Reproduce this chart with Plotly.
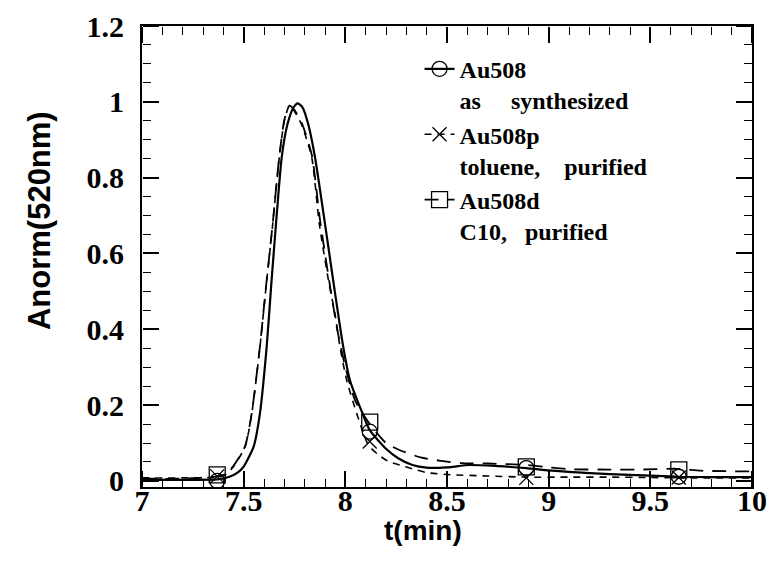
import plotly.graph_objects as go

# ---------------- data ----------------
t_au508 = [7.00, 7.20, 7.37, 7.43, 7.47, 7.50, 7.55, 7.58, 7.613, 7.636, 7.659, 7.687,
           7.715, 7.745, 7.766, 7.79, 7.818, 7.851, 7.90, 7.94, 7.99, 8.023, 8.087, 8.12,
           8.20, 8.26, 8.33, 8.40, 8.50, 8.61, 8.75, 8.89, 9.00, 9.10, 9.30, 9.50, 9.64,
           9.80, 10.00]
a_au508 = [0.003, 0.003, 0.004, 0.011, 0.022, 0.038, 0.092, 0.178, 0.353, 0.52, 0.678, 0.853,
           0.94, 0.985, 0.996, 0.985, 0.94, 0.853, 0.678, 0.53, 0.353, 0.265, 0.175, 0.134,
           0.085, 0.06, 0.042, 0.035, 0.036, 0.042, 0.039, 0.034, 0.028, 0.024, 0.018, 0.014, 0.011,
           0.010, 0.010]

t_au508p = [7.00, 7.20, 7.37, 7.41, 7.45, 7.507, 7.54, 7.58, 7.61, 7.643, 7.675, 7.70,
            7.725, 7.75, 7.785, 7.835, 7.872, 7.917, 7.949, 7.974, 8.007, 8.056, 8.113, 8.16,
            8.21, 8.28, 8.33, 8.40, 8.50, 8.70, 8.89, 9.10, 9.30, 9.50, 9.64, 9.80, 10.00]
a_au508p = [0.008, 0.008, 0.010, 0.016, 0.038, 0.090, 0.178, 0.353, 0.511, 0.678, 0.853, 0.95,
            0.99, 0.975, 0.94, 0.853, 0.678, 0.529, 0.441, 0.353, 0.265, 0.178, 0.095, 0.07,
            0.052, 0.04, 0.032, 0.022, 0.017, 0.013, 0.010, 0.010, 0.010, 0.009, 0.008, 0.008, 0.008]

t_au508d = [7.00, 7.20, 7.37, 7.41, 7.45, 7.507, 7.54, 7.58, 7.61, 7.643, 7.675, 7.70,
            7.725, 7.75, 7.785, 7.835, 7.875, 7.92, 7.96, 8.00, 8.05, 8.12, 8.20, 8.26,
            8.37, 8.47, 8.57, 8.70, 8.89, 9.00, 9.10, 9.30, 9.45, 9.63, 9.75, 10.00]
a_au508d = [0.006, 0.006, 0.012, 0.018, 0.040, 0.092, 0.18, 0.355, 0.513, 0.68, 0.855, 0.952,
            0.99, 0.978, 0.945, 0.86, 0.69, 0.53, 0.40, 0.30, 0.21, 0.15, 0.10, 0.083,
            0.062, 0.053, 0.047, 0.046, 0.042, 0.036, 0.031, 0.030, 0.030, 0.032, 0.027, 0.025]

mark_t = [7.37, 8.12, 8.89, 9.64]
mark_au508 = [0.000, 0.130, 0.034, 0.011]
mark_au508p = [0.012, 0.104, 0.008, 0.009]
mark_au508d = [0.016, 0.155, 0.037, 0.029]

series_names = ["Au508<br>as\u00a0\u00a0\u00a0\u00a0 synthesized",
                "Au508p<br>toluene,\u00a0\u00a0\u00a0 purified",
                "Au508d<br>C10,\u00a0\u00a0 purified"]

x_title = "t(min)"
y_title = "Anorm(520nm)"
x_range = [7, 10]
y_range = [-0.016, 1.2]
x_tick0, x_dtick, x_minor_dtick = 7, 0.5, 0.1
y_tick0, y_dtick, y_minor_dtick = 0, 0.2, 0.05

# ---------------- figure ----------------
fig = go.Figure()

styles = [
    dict(t=t_au508, a=a_au508, m=mark_au508, dash="solid", width=2.2, symbol="circle-open", size=15),
    dict(t=t_au508p, a=a_au508p, m=mark_au508p, dash="7px,6px", width=1.6, symbol="x-thin-open", size=14),
    dict(t=t_au508d, a=a_au508d, m=mark_au508d, dash="14px,9px", width=1.8, symbol="square-open", size=16),
]

for name, s in zip(series_names, styles):
    fig.add_trace(go.Scatter(
        x=s["t"], y=s["a"], mode="lines", showlegend=False,
        line=dict(color="black", width=s["width"], dash=s["dash"], shape="spline", smoothing=0.6),
        hoverinfo="skip"))
    fig.add_trace(go.Scatter(
        x=mark_t, y=s["m"], mode="markers", showlegend=False,
        marker=dict(symbol=s["symbol"], size=s["size"], color="black",
                    line=dict(color="black", width=1.3))))
    fig.add_trace(go.Scatter(
        x=[None], y=[None], mode="lines+markers", name=name,
        line=dict(color="black", width=s["width"], dash=s["dash"]),
        marker=dict(symbol=s["symbol"], size=s["size"], color="black",
                    line=dict(color="black", width=1.3))))

# empty traces so the tick-only overlay axes get drawn
for xa, ya in [("x2", "y"), ("x3", "y"), ("x", "y2"), ("x", "y3")]:
    fig.add_trace(go.Scatter(x=[None], y=[None], xaxis=xa, yaxis=ya, mode="lines",
                             showlegend=False, hoverinfo="skip"))

tickfont = dict(family="Liberation Serif", size=30, color="black", weight="bold")

# main axes: frame + labels
fig.update_layout(
    xaxis=dict(range=x_range, tickmode="linear", tick0=x_tick0, dtick=x_dtick,
               showline=True, linecolor="black", linewidth=2, mirror=True,
               ticks="", showgrid=False, zeroline=False, tickfont=tickfont,
               ticklabelstandoff=-14),
    yaxis=dict(range=y_range, tickmode="linear", tick0=y_tick0, dtick=y_dtick,
               showline=True, linecolor="black", linewidth=2, mirror=True,
               ticks="", showgrid=False, zeroline=False, tickfont=tickfont,
               ticklabelstandoff=10),
)

# tick-only axes whose "outside" ticks point into the plot area
def tick_axis(rng, tick0, dtick, mdtick, overlay, side, pos):
    return dict(range=rng, tickmode="linear", tick0=tick0, dtick=dtick,
                overlaying=overlay, anchor="free", position=pos, side=side,
                showline=False, showgrid=False, zeroline=False, showticklabels=False,
                ticks="outside", ticklen=16, tickwidth=1.8, tickcolor="black",
                minor=dict(ticks="outside", ticklen=8, dtick=mdtick, tick0=tick0,
                           tickwidth=1.2, tickcolor="black", showgrid=False))

fig.update_layout(
    xaxis2=tick_axis(x_range, x_tick0, x_dtick, x_minor_dtick, "x", "top", 0),
    xaxis3=tick_axis(x_range, x_tick0, x_dtick, x_minor_dtick, "x", "bottom", 1),
    yaxis2=tick_axis(y_range, y_tick0, y_dtick, y_minor_dtick, "y", "right", 0),
    yaxis3=tick_axis(y_range, y_tick0, y_dtick, y_minor_dtick, "y", "left", 1),
)

fig.add_annotation(text=x_title, xref="paper", yref="paper", x=0.46, y=-0.095,
                   xanchor="center", yanchor="middle", showarrow=False,
                   font=dict(family="Liberation Sans", size=28, color="black", weight="bold"))
fig.add_annotation(text=y_title, xref="paper", yref="paper", x=-0.168, y=0.578,
                   xanchor="center", yanchor="middle", showarrow=False, textangle=-90,
                   font=dict(family="Liberation Sans", size=31, color="black", weight="bold"))

fig.update_layout(
    template="simple_white",
    width=782, height=571,
    margin=dict(l=142, r=30, t=26, b=84, autoexpand=False),
    paper_bgcolor="white", plot_bgcolor="white",
    legend=dict(x=0.455, y=0.955, xanchor="left", yanchor="top",
                bgcolor="rgba(0,0,0,0)", borderwidth=0, valign="top",
                font=dict(family="Liberation Serif", size=24, color="black", weight="bold"),
                tracegroupgap=0, itemwidth=30),
)

fig.write_html("out.html")
